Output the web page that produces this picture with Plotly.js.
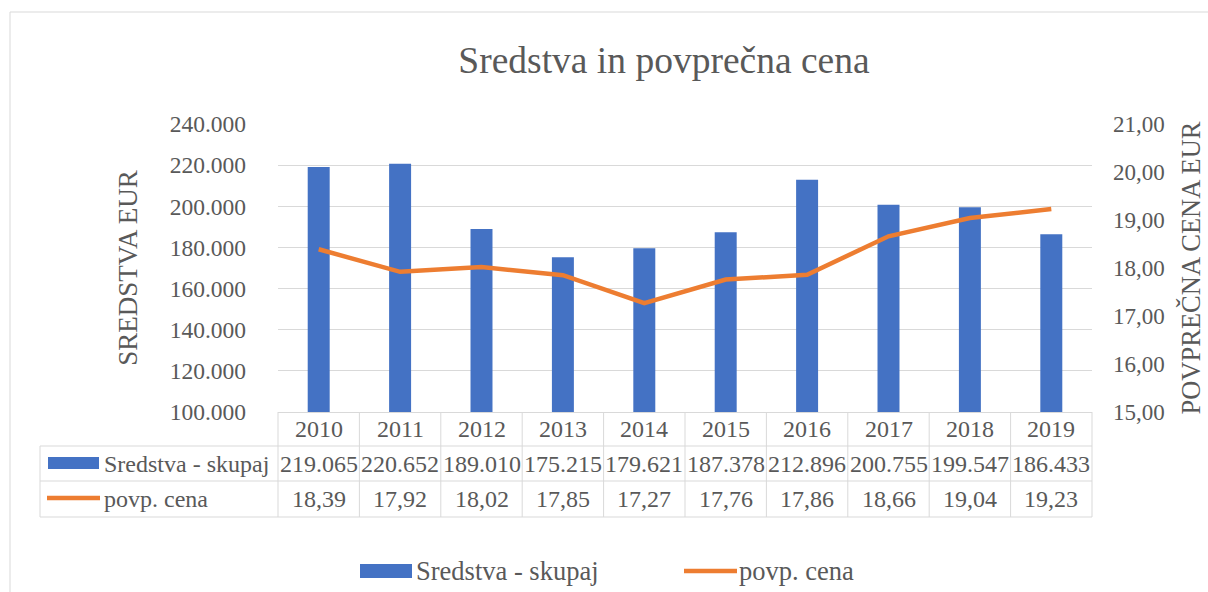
<!DOCTYPE html>
<html>
<head>
<meta charset="utf-8">
<script src="https://cdn.plot.ly/plotly-3.0.1.min.js"></script>
<style>html,body{margin:0;padding:0;background:#fff;}#chart{width:1208px;height:592px;}</style>
</head>
<body>
<div id="chart"></div>
<script>
const years = ['2010','2011','2012','2013','2014','2015','2016','2017','2018','2019'];
const sredstva = [219065, 220652, 189010, 175215, 179621, 187378, 212896, 200755, 199547, 186433];
const povpCena = [18.39, 17.92, 18.02, 17.85, 17.27, 17.76, 17.86, 18.66, 19.04, 19.23];
const seriesNames = ['Sredstva - skupaj', 'povp. cena'];
const leftTitle = 'SREDSTVA EUR';
const rightTitle = 'POVPREČNA CENA EUR';
const chartTitle = 'Sredstva in povprečna cena';

const W = 1208, H = 592;
const M = {l: 278, r: 116, t: 124, b: 180};
const PW = W - M.l - M.r, PH = H - M.t - M.b;
const px = x => (x - M.l) / PW;          // pixel -> paper x
const py = y => (H - M.b - y) / PH;      // pixel -> paper y

const FONT = 'Liberation Serif';
const GREY = '#595959';
const LINE = '#d9d9d9';
const BLUE = '#4472C4';
const ORANGE = '#ED7D31';

function fmtThousands(v) {
  return String(Math.round(v)).replace(/\B(?=(\d{3})+(?!\d))/g, '.');
}
function fmtDec(v) { return v.toFixed(2).replace('.', ','); }

const traces = [
  {type: 'bar', x: years, y: sredstva, name: seriesNames[0], marker: {color: BLUE}, width: 0.27, yaxis: 'y', showlegend: false},
  {type: 'scatter', mode: 'lines', x: years, y: povpCena, name: seriesNames[1], line: {color: ORANGE, width: 4.5}, yaxis: 'y2', showlegend: false}
];

// table geometry (pixels)
const tTop = 412, r1 = 446, r2 = 481, r3 = 517, tLeft = 40;
const shapes = [];
shapes.push({type: 'rect', xref: 'paper', yref: 'paper', x0: px(10), x1: px(1230), y0: py(620), y1: py(12), line: {color: LINE, width: 1}, layer: 'below'});
[r1, r2, r3].forEach(y => shapes.push({type: 'line', xref: 'paper', yref: 'paper', x0: px(tLeft), x1: 1, y0: py(y), y1: py(y), line: {color: LINE, width: 1}}));
for (let i = 0; i <= years.length; i++) {
  const xp = i / years.length;
  shapes.push({type: 'line', xref: 'paper', yref: 'paper', x0: xp, x1: xp, y0: py(tTop), y1: py(r3), line: {color: LINE, width: 1}});
}
shapes.push({type: 'line', xref: 'paper', yref: 'paper', x0: px(tLeft), x1: px(tLeft), y0: py(r1), y1: py(r3), line: {color: LINE, width: 1}});
// table legend keys
shapes.push({type: 'rect', xref: 'paper', yref: 'paper', x0: px(48), x1: px(99), y0: py(469), y1: py(457), fillcolor: BLUE, line: {width: 0}});
shapes.push({type: 'line', xref: 'paper', yref: 'paper', x0: px(47), x1: px(100), y0: py(498), y1: py(498), line: {color: ORANGE, width: 4.5}});
// bottom legend keys
shapes.push({type: 'rect', xref: 'paper', yref: 'paper', x0: px(360), x1: px(412), y0: py(578), y1: py(564), fillcolor: BLUE, line: {width: 0}});
shapes.push({type: 'line', xref: 'paper', yref: 'paper', x0: px(684), x1: px(737), y0: py(571), y1: py(571), line: {color: ORANGE, width: 4.5}});

const tf = {family: FONT, size: 24, color: GREY};
const lf = {family: FONT, size: 26.5, color: GREY};
const annotations = [];
years.forEach((yr, i) => {
  annotations.push({xref: 'x', yref: 'paper', x: i, y: py((tTop + r1) / 2), text: yr, showarrow: false, font: tf, xanchor: 'center', yanchor: 'middle'});
  annotations.push({xref: 'x', yref: 'paper', x: i, y: py((r1 + r2) / 2), text: fmtThousands(sredstva[i]), showarrow: false, font: tf, xanchor: 'center', yanchor: 'middle'});
  annotations.push({xref: 'x', yref: 'paper', x: i, y: py((r2 + r3) / 2), text: fmtDec(povpCena[i]), showarrow: false, font: tf, xanchor: 'center', yanchor: 'middle'});
});
annotations.push({xref: 'paper', yref: 'paper', x: px(102), y: py((r1 + r2) / 2), text: seriesNames[0], showarrow: false, font: tf, xanchor: 'left', yanchor: 'middle'});
annotations.push({xref: 'paper', yref: 'paper', x: px(102), y: py((r2 + r3) / 2), text: seriesNames[1], showarrow: false, font: tf, xanchor: 'left', yanchor: 'middle'});
annotations.push({xref: 'paper', yref: 'paper', x: px(414), y: py(571), text: seriesNames[0], showarrow: false, font: lf, xanchor: 'left', yanchor: 'middle'});
annotations.push({xref: 'paper', yref: 'paper', x: px(737), y: py(571), text: seriesNames[1], showarrow: false, font: lf, xanchor: 'left', yanchor: 'middle'});

const layout = {
  width: W, height: H,
  margin: M,
  paper_bgcolor: '#fff', plot_bgcolor: '#fff',
  separators: ',.',
  font: {family: FONT, color: GREY},
  title: {text: chartTitle, font: {family: FONT, size: 37.5, color: GREY}, x: 664 / W, xref: 'container', xanchor: 'center', y: 1 - 60 / H, yanchor: 'middle'},
  xaxis: {type: 'category', range: [-0.5, years.length - 0.5], showticklabels: false, ticks: '', showgrid: false, showline: true, linecolor: LINE, linewidth: 1, fixedrange: true},
  yaxis: {range: [100000, 240000], dtick: 20000, tickformat: ',.0f', showgrid: true, gridcolor: LINE, gridwidth: 1, zeroline: false, ticks: '', ticklabelstandoff: 31,
          tickfont: {family: FONT, size: 23.5, color: GREY},
          title: {text: leftTitle, font: {family: FONT, size: 27, color: GREY}, standoff: 24}},
  yaxis2: {range: [15, 21], dtick: 1, tickformat: '.2f', overlaying: 'y', side: 'right', showgrid: false, zeroline: false, ticks: '', ticklabelstandoff: 20,
           tickfont: {family: FONT, size: 23, color: GREY},
           title: {text: rightTitle, font: {family: FONT, size: 26.5, color: GREY}, standoff: 17}},
  shapes: shapes,
  annotations: annotations,
  showlegend: false
};

Plotly.newPlot('chart', traces, layout, {displayModeBar: false, staticPlot: true});
</script>
</body>
</html>
